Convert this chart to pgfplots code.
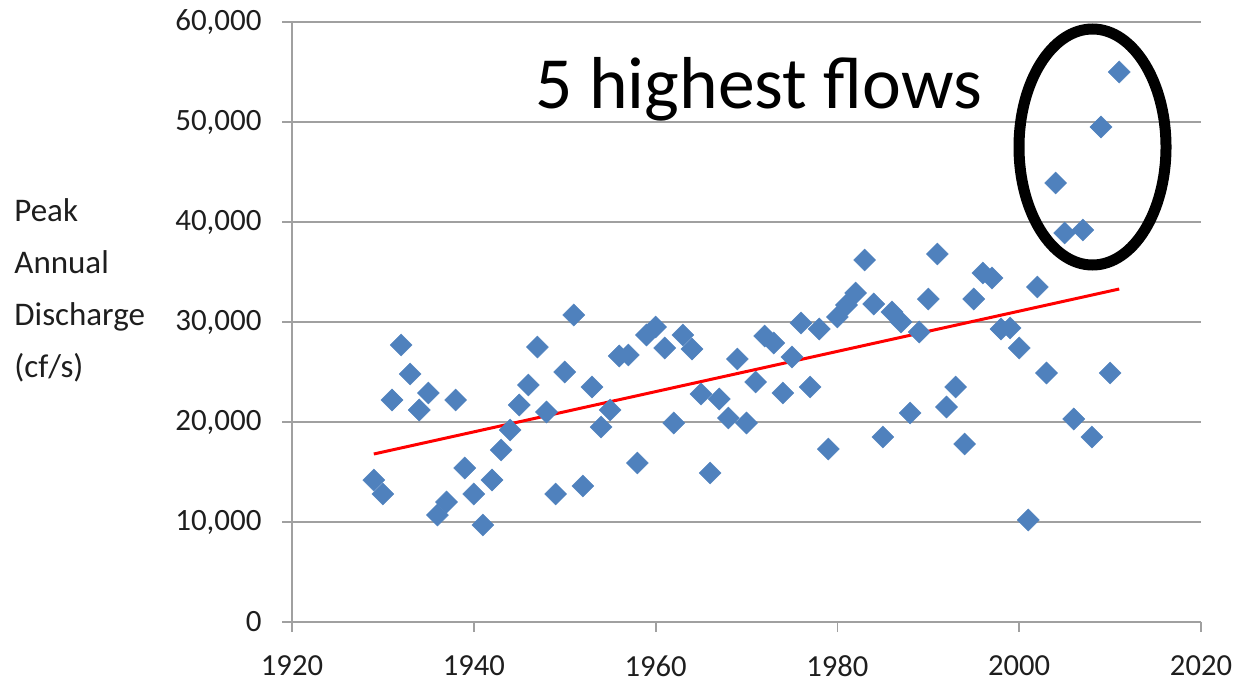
\documentclass[border=0pt]{standalone}
\usepackage{pgfplots}
\pgfplotsset{compat=1.18}
\usepackage{fontspec}
\setmainfont{Carlito}
\definecolor{mk}{RGB}{79,129,189}
\definecolor{gridc}{RGB}{160,160,160}
\definecolor{txt}{RGB}{30,30,30}
\begin{document}
\begin{tikzpicture}
\begin{axis}[
  name=ax,
  scale only axis,
  width=454.5pt, height=300pt,
  xmin=1920, xmax=2020, ymin=0, ymax=60000,
  xtick={1920,1940,...,2020},
  ytick={0,10000,...,60000},
  axis x line*=bottom, axis y line*=left,
  axis line style={gridc, line width=0.9pt},
  tick style={gridc, line width=0.9pt},
  tick align=outside, major tick length=5pt,
  ymajorgrids, grid style={gridc, line width=0.9pt},
  scaled y ticks=false,
  /pgf/number format/.cd, 1000 sep={,}, assume math mode=true,
  /pgfplots/.cd,
  xticklabel style={/pgf/number format/1000 sep={}, font=\fontsize{15.3}{18}\selectfont, color=txt, anchor=north, inner sep=0pt, yshift=-11.5pt},
  yticklabel style={font=\fontsize{15.5}{18}\selectfont, color=txt, anchor=east, inner sep=0pt, xshift=-10pt},
  clip=false,
]
\addplot[only marks, mark=square*, mark size=3.9pt, mark options={rotate=45, fill=mk, draw=mk, line width=0.2pt}] coordinates {
(1929,14200)(1930,12800)(1931,22200)(1932,27700)(1933,24800)(1934,21200)
(1935,22900)(1936,10700)(1937,12000)(1938,22200)(1939,15400)(1940,12800)
(1941,9700)(1942,14200)(1943,17200)(1944,19200)(1945,21700)(1946,23700)
(1947,27500)(1948,21000)(1949,12800)(1950,25000)(1951,30700)(1952,13600)
(1953,23500)(1954,19500)(1955,21200)(1956,26600)(1957,26700)(1958,15900)
(1959,28700)(1960,29500)(1961,27400)(1962,19900)(1963,28700)(1964,27300)
(1965,22800)(1966,14900)(1967,22300)(1968,20400)(1969,26300)(1970,19900)
(1971,24000)(1972,28600)(1973,27900)(1974,22900)(1975,26500)(1976,29900)
(1977,23500)(1978,29300)(1979,17300)(1980,30500)(1981,31700)(1982,32900)
(1983,36200)(1984,31800)(1985,18500)(1986,31000)(1987,30000)(1988,20900)
(1989,29000)(1990,32300)(1991,36800)(1992,21500)(1993,23500)(1994,17800)
(1995,32300)(1996,34900)(1997,34400)(1998,29300)(1999,29400)(2000,27400)
(2001,10200)(2002,33500)(2003,24900)(2004,43900)(2005,38900)(2006,20300)
(2007,39200)(2008,18500)(2009,49500)(2010,24900)(2011,55000)
};
\addplot[red, line width=1.5pt] coordinates {(1929,16800)(2011,33300)};
\end{axis}
\node[anchor=base west, inner sep=0pt, font=\fontsize{36.8}{44}\selectfont] at ([xshift=121.5pt, yshift=257pt]ax.south west) {5 highest flows};
\draw[line width=5.5pt, black] ([xshift=400.25pt, yshift=237.5pt]ax.south west) ellipse [x radius=36.75pt, y radius=59pt];
\node[anchor=west, align=left, inner sep=0pt, font=\fontsize{16.5}{26}\selectfont, text=txt] at ([xshift=-139pt, yshift=166pt]ax.south west) {Peak\\Annual\\Discharge\\(cf/s)};
\pgfresetboundingbox
\path (ax.south west) ++(-146pt,-30pt) rectangle ++(620pt,341pt);
\end{tikzpicture}
\end{document}
